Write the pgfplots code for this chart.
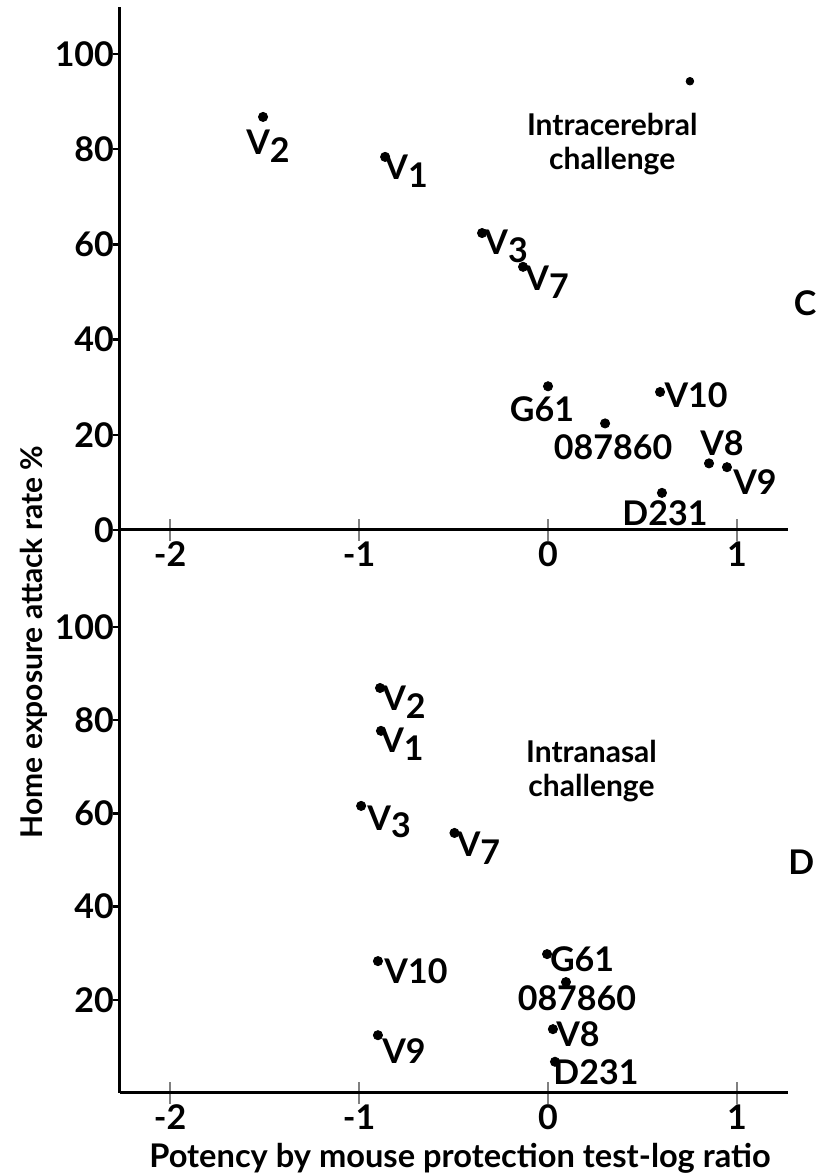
\documentclass[border=0pt]{standalone}
\usepackage{fontspec}
\setmainfont{Lato}
\usepackage{pgfplots}
\usepackage{pgfplotstable}
\pgfplotsset{compat=1.18}
\newcommand\sub[1]{\raisebox{-0.45ex}{#1}}
\newcommand\lbl{\bfseries\fontsize{17}{19}\selectfont}

% dx, dy: offset of the label centre from its dot, in pt
\pgfplotstableread{
x      y     dx    dy    lab
-1.508 86.8  2.5   -14.5 V\sub{2}
-0.862 78.4  10.5  -7    V\sub{1}
-0.349 62.4  12    -6.5  V\sub{3}
-0.132 55.3  12    -7.5  V\sub{7}
0.000  30.2  -3    -11.5 G61
0.302  22.4  4     -12   087860
0.593  29.0  18    -1.5  V10
0.852  14.0  6.5   10    V8
0.947  13.2  14    -7.5  V9
0.603  7.8   1.5   -10   D231
}\topdata

\pgfplotstableread{
x      y     dx    dy    lab
-0.889 86.9  12    -7    V\sub{2}
-0.884 77.7  10.5  -6.5  V\sub{1}
-0.989 61.6  14    -8    V\sub{3}
-0.495 55.8  12    -7.5  V\sub{7}
-0.900 28.3  19    -5    V10
-0.900 12.4  13    -8    V9
-0.005 29.8  17.5  -2.5  G61
0.095  23.8  5.5   -8    087860
0.026  13.7  12.5  -2.5  V8
0.037  6.7   20.5  -5    D231
}\botdata

\pgfplotsset{
  panel/.style={
    scale only axis, width=334pt, xmin=-2.265, xmax=1.27, ymin=0,
    axis lines=left, axis line style={-, line width=1.5pt},
    xtick={-2,-1,0,1}, xtick align=center, ytick align=outside,
    major tick length=11pt, minor tick length=3.5pt,
    every major y tick/.style={draw=none},
    every minor y tick/.style={draw=black, line width=1.2pt},
    every major x tick/.style={line width=1.2pt},
    ticklabel style={font=\lbl},
    yticklabel style={xshift=11.5pt},
    xticklabel style={yshift=3pt},
    /pgf/number format/assume math mode=true,
    clip=false,
  },
  pts/.style={
    only marks, mark=*, mark size=2.3pt, black,
    point meta=explicit symbolic,
    nodes near coords,
    visualization depends on={\thisrow{dx}\as\dx},
    visualization depends on={\thisrow{dy}\as\dy},
    nodes near coords style={anchor=center, xshift=\dx pt, yshift=\dy pt, font=\lbl},
  },
}

\begin{document}
\begin{tikzpicture}
\useasboundingbox (0,0) rectangle (409.5pt,587pt);

\begin{axis}[panel, at={(60pt,322pt)}, anchor=south west,
  height=261.5pt, ymax=109.9,
  ytick={0,20,...,100}, minor ytick={0,20,...,100}]
  \addplot[pts] table[x=x, y=y, meta=lab] {\topdata};
  \addplot[only marks, mark=*, mark size=1.9pt, black] coordinates {(0.751,94.3)};
  \node[font=\bfseries\fontsize{15}{17}\selectfont, align=center]
    at (axis cs:0.34,81) {Intracerebral\\challenge};
  \node[font=\lbl] at (axis cs:1.36,47.7) {C};
\end{axis}

\begin{axis}[panel, at={(60pt,40.5pt)}, anchor=south west,
  height=281.5pt, ymax=120.8,
  ytick={20,40,...,100}, minor ytick={20,40,...,100}]
  \addplot[pts] table[x=x, y=y, meta=lab] {\botdata};
  \node[font=\bfseries\fontsize{15}{17}\selectfont, align=center]
    at (axis cs:0.23,69) {Intranasal\\challenge};
  \node[font=\lbl] at (axis cs:1.34,49.6) {D};
\end{axis}

\node[rotate=90, anchor=base, font=\bfseries\fontsize{15}{17}\selectfont]
  at (21pt,266pt) {Home exposure attack rate \%};
\node[anchor=base, font=\bfseries\fontsize{16.3}{18}\selectfont]
  at (230pt,3pt) {Potency by mouse protection test-log ratio};
\end{tikzpicture}
\end{document}
